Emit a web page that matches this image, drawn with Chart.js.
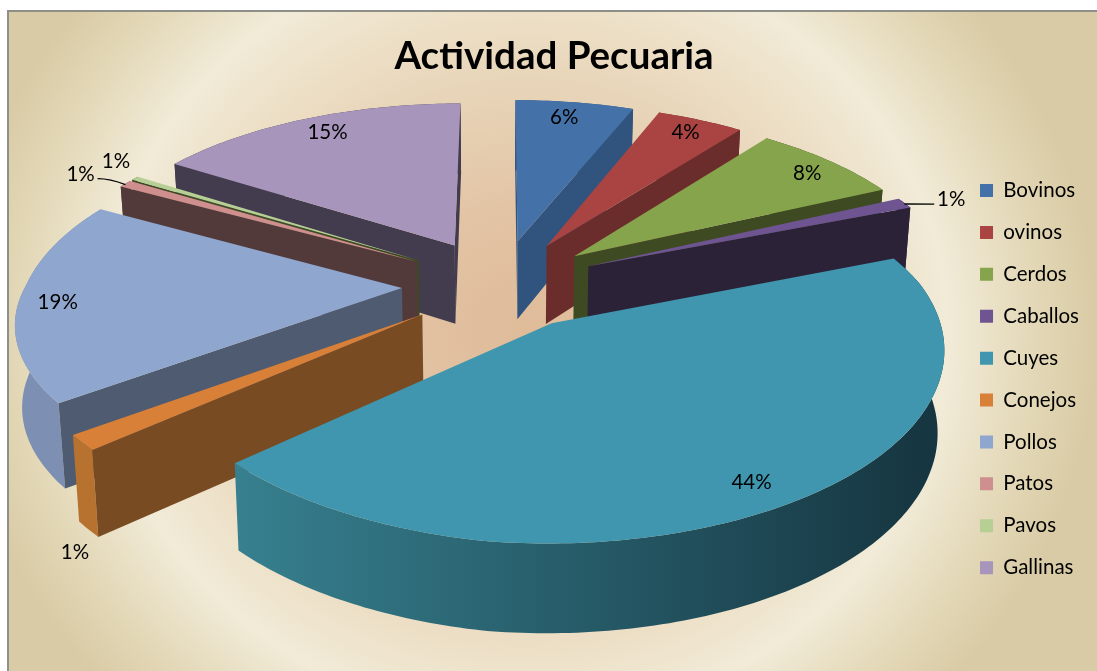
<!DOCTYPE html>
<html>
<head>
<meta charset="utf-8">
<script src="https://cdn.jsdelivr.net/npm/chart.js@4"></script>
<style>
html,body{margin:0;padding:0;background:#fff;width:1097px;height:671px;overflow:hidden}
#bg{position:absolute;left:7px;top:10px;width:1090px;height:661px;box-sizing:border-box;
 border-left:2px solid #8f8f8a;border-top:2px solid #8f8f8a;
 background:
  radial-gradient(ellipse 570px 523px at 517px 320px,
   #dfbb99 0%,#e2c3a3 22%,#e8d5b9 48%,#eee2ca 64%,#f1ebd8 74%,#e4d9b9 88%,#d9cba5 100%);
 background-color:#d6c8a0}
#c{position:absolute;left:0;top:0}
</style>
</head>
<body>
<div id="bg"></div>
<canvas id="c" width="1097" height="671"></canvas>
<script>
const categories = ["Bovinos","ovinos","Cerdos","Caballos","Cuyes","Conejos","Pollos","Patos","Pavos","Gallinas"];
const values = [6,4.4,7.6,1,43.8,1.4,18.8,0.7,0.4,15.9];
const valueLabels = ["6%","4%","8%","1%","44%","1%","19%","1%","1%","15%"];
const topColors = ["#4472a8","#a94442","#86a44c","#6e5490","#3f96ae","#d98038","#8fa6cf","#cf8f8f","#b6cf95","#a795bb"];
const wallColors = ["#30547e","#6b2d2b","#3e4a22","#2c2238","#1f4a58","#794b22","#4e5b70","#533a3a","#3e4a22","#423c4e"];
const rimColors = [["#30547e","#30547e"],["#6b2d2b","#6b2d2b"],["#3e4a22","#3e4a22"],["#2c2238","#2c2238"],
  ["#37808f","#15343f"],["#b8722f","#b8722f"],["#7d90b3","#7d90b3"],["#533a3a","#533a3a"],["#3e4a22","#3e4a22"],["#423c4e","#423c4e"]];
const labelNudgeX = [-3,6,13,92,2,-63,-19,-86,-59,2];
const labelNudgeY = [-4,-5,-1,-13,10,130,2,-20,-28,-4];
const leaderSlices = ["Caballos","Patos"];

const view = {cx:500, cy:284, bx:376, ay:174, k:0.15, depth:80, depthV:8, shrink:0.985, frontShear:14, frontTilt:9};
function pt(nx, ny, low){
  const w = 1/(1-view.k*ny);
  const s = low ? view.shrink : 1;
  const d = low ? view.depth+view.depthV*ny : 0;
  const shear = ny>0 ? view.frontShear*ny : 0;
  const tilt = (ny>0 && nx<0) ? view.frontTilt*nx*ny : 0;
  return [view.cx+view.bx*nx*w*s-shear, view.cy+view.ay*ny*w+d+tilt];
}
function fillPoly(ctx, pts, fill){
  ctx.beginPath();
  pts.forEach((p,i)=> i?ctx.lineTo(p[0],p[1]):ctx.moveTo(p[0],p[1]));
  ctx.closePath();
  ctx.fillStyle = fill;
  ctx.fill();
}
function geom(el){
  const R = el.outerRadius, o = el.options.offset/R;
  const a0 = el.startAngle, a1 = el.endAngle, m = (a0+a1)/2;
  const ox = o*Math.cos(m), oy = o*Math.sin(m);
  const arc = [];
  const n = Math.max(4, Math.ceil((a1-a0)/(Math.PI/180)));
  for(let i=0;i<=n;i++){const a=a0+(a1-a0)*i/n; arc.push([ox+Math.cos(a), oy+Math.sin(a)]);}
  return {ox,oy,m,arc};
}
const pie3d = {
  id:'pie3d',
  beforeDatasetDraw(){ return false; },
  afterDraw(chart){
    const ctx = chart.ctx, els = chart.getDatasetMeta(0).data;
    const gs = els.map(geom);
    const order = els.map((e,i)=>i).sort((a,b)=>gs[a].oy-gs[b].oy);
    ctx.save();
    order.forEach(i=>{
      const g = gs[i];
      const top = g.arc.map(p=>pt(p[0],p[1],false));
      const low = g.arc.map(p=>pt(p[0],p[1],true));
      const tipT = pt(g.ox,g.oy,false), tipL = pt(g.ox,g.oy,true);
      const xs = top.map(p=>p[0]);
      const grad = ctx.createLinearGradient(Math.min(...xs),0,Math.max(...xs),0);
      grad.addColorStop(0,rimColors[i][0]); grad.addColorStop(1,rimColors[i][1]);
      fillPoly(ctx, top.concat(low.slice().reverse()), grad);
      const q = top[Math.floor(top.length/2)];
      [[top[0],low[0]],[top[top.length-1],low[low.length-1]]].forEach(e=>{
        const dx=e[0][0]-tipT[0], dy=e[0][1]-tipT[1];
        const cross = dx*(q[1]-tipT[1])-dy*(q[0]-tipT[0]);
        if(cross*dx<0) fillPoly(ctx,[tipT,e[0],e[1],tipL],wallColors[i]);
      });
      fillPoly(ctx,[tipT].concat(top),topColors[i]);
    });
    ctx.font = '20.5px Lato';
    ctx.fillStyle = '#000';
    ctx.textAlign = 'center';
    ctx.textBaseline = 'middle';
    els.forEach((el,i)=>{
      const g = gs[i], r = 0.85;
      const p = pt(g.ox+r*Math.cos(g.m), g.oy+r*Math.sin(g.m), false);
      const lx = p[0]+labelNudgeX[i], ly = p[1]+labelNudgeY[i];
      ctx.fillText(valueLabels[i], lx, ly);
      if(leaderSlices.includes(categories[i])){
        const e = pt(g.ox+Math.cos(g.m), g.oy+Math.sin(g.m), false);
        const side = lx<e[0] ? 17 : -17;
        ctx.beginPath();
        ctx.moveTo(e[0],e[1]+1);
        ctx.quadraticCurveTo(e[0]+(lx+side-e[0])*0.55, ly+(lx<e[0]?4:5), lx+side, ly+(lx<e[0]?4:5));
        ctx.strokeStyle='#000'; ctx.lineWidth=1.3; ctx.stroke();
      }
    });
    ctx.restore();
  }
};
new Chart(document.getElementById('c'),{
  type:'pie',
  data:{labels:categories,datasets:[{data:values,backgroundColor:topColors,borderWidth:0,offset:52,radius:200}]},
  options:{
    responsive:false,animation:false,
    layout:{padding:{left:19,right:8,top:33,bottom:0}},
    plugins:{
      tooltip:{enabled:false},
      title:{display:true,text:'Actividad Pecuaria',color:'#000',font:{family:'Lato',size:38.5,weight:'bold'},padding:{top:0,bottom:8}},
      legend:{position:'right',fullSize:false,onClick:null,labels:{color:'#000',font:{family:'Lato',size:20.5},boxWidth:13,boxHeight:13,padding:21.4}}
    }
  },
  plugins:[pie3d]
});
</script>
</body>
</html>
